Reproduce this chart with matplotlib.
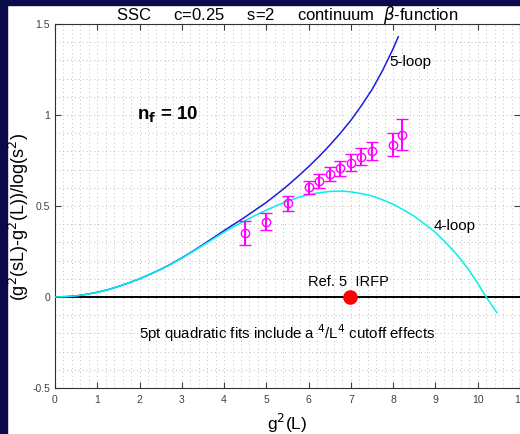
import matplotlib
matplotlib.use("Agg")
import matplotlib.pyplot as plt
from matplotlib.patches import Rectangle
from matplotlib.ticker import MultipleLocator

plt.rcParams['font.family'] = ['Liberation Sans', 'DejaVu Sans']
plt.rcParams['mathtext.fontset'] = 'dejavusans'

# 5-loop curve
x5 = [0, 0.25, 0.5, 0.75, 1.0, 1.25, 1.5, 1.75, 2.0, 2.25, 2.5, 2.75, 3.0, 3.25, 3.5, 3.75,
      4.0, 4.25, 4.5, 4.75, 5.0, 5.25, 5.5, 5.75, 6.0, 6.25, 6.5, 6.75, 7.0, 7.25, 7.5, 7.75, 8.0, 8.12]
y5 = [0, 0.002, 0.006, 0.015, 0.026, 0.04, 0.058, 0.078, 0.10, 0.125, 0.152, 0.182, 0.215, 0.25, 0.288, 0.326,
      0.365, 0.402, 0.44, 0.48, 0.52, 0.565, 0.612, 0.663, 0.716, 0.773, 0.834, 0.90, 0.971, 1.052, 1.14, 1.245, 1.365, 1.43]

# 4-loop curve
x4 = [0, 0.25, 0.5, 0.75, 1.0, 1.25, 1.5, 1.75, 2.0, 2.25, 2.5, 2.75, 3.0, 3.25, 3.5, 3.75,
      4.0, 4.25, 4.5, 4.75, 5.0, 5.25, 5.5, 5.75, 6.0, 6.25, 6.5, 6.75, 7.0, 7.25, 7.5, 7.75,
      8.0, 8.25, 8.5, 8.75, 9.0, 9.25, 9.5, 9.75, 10.0, 10.2, 10.45]
y4 = [0, 0.002, 0.006, 0.015, 0.026, 0.04, 0.058, 0.078, 0.10, 0.125, 0.151, 0.181, 0.213, 0.248, 0.284, 0.32,
      0.356, 0.39, 0.42, 0.45, 0.477, 0.503, 0.527, 0.547, 0.562, 0.573, 0.58, 0.582, 0.578, 0.568, 0.555, 0.534,
      0.51, 0.478, 0.443, 0.40, 0.355, 0.297, 0.235, 0.162, 0.075, 0.0, -0.085]

# data points with errors
gx = [4.5, 5.0, 5.5, 6.0, 6.25, 6.5, 6.75, 7.0, 7.25, 7.5, 8.0, 8.2]
gy = [0.35, 0.414, 0.515, 0.603, 0.639, 0.674, 0.707, 0.738, 0.771, 0.804, 0.837, 0.892]
gerr = [0.067, 0.048, 0.04, 0.036, 0.038, 0.038, 0.04, 0.045, 0.048, 0.05, 0.064, 0.085]

# IRFP reference point
irfp_x = [6.97]
irfp_y = [0.0]

xticks = list(range(0, 12))
yticks = [-0.5, 0, 0.5, 1, 1.5]
yticklabels = ['-0.5', '0', '0.5', '1', '1.5']

fig = plt.figure(figsize=(5.2, 4.34), dpi=100)
fig.patch.set_facecolor('white')
# dark frame (left and top)
fig.patches.append(Rectangle((0, 0), 7/520, 1, transform=fig.transFigure, color='#0b0b4c', zorder=-10))
fig.patches.append(Rectangle((0, 1 - 5/434), 1, 5/434, transform=fig.transFigure, color='#0b0b4c', zorder=-10))

ax = fig.add_axes([55/520, (434-388)/434, 465/520, 364/434])
ax.set_xlim(0, 11)
ax.set_ylim(-0.5, 1.5)

ax.xaxis.set_minor_locator(MultipleLocator(0.2))
ax.yaxis.set_minor_locator(MultipleLocator(0.1))
ax.grid(which='both', linestyle=(0, (1, 3)), color='#c0c0c0', linewidth=0.7)
ax.set_axisbelow(True)

ax.axhline(0, color='black', linewidth=1.4, zorder=2)
ax.plot(x5, y5, color='#1c1ce0', linewidth=1.1, zorder=3)
ax.plot(x4, y4, color='#00f0f0', linewidth=1.1, zorder=3)
ax.errorbar(gx, gy, yerr=gerr, fmt='o', color='#ff00ff', mfc='none', mec='#ff00ff',
            markersize=6, mew=1.0, elinewidth=1.5, capsize=4, capthick=1.5, zorder=4)
ax.plot(irfp_x, irfp_y, 'o', color='#ff0000', markersize=9.5, zorder=5)

ax.set_xticks(xticks)
ax.set_yticks(yticks)
ax.set_yticklabels(yticklabels)
ax.tick_params(which='major', direction='in', length=4, width=0.8, top=True, right=True,
               labelsize=7.5, labelcolor='#404040', color='#404040')
ax.tick_params(which='major', axis='x', pad=5)
ax.tick_params(which='minor', length=0)
for s in ax.spines.values():
    s.set_color('#303030')
    s.set_linewidth(0.8)

ax.set_title(r'SSC     c=0.25     s=2     continuum  $\beta$-function', fontsize=12, pad=3)
ax.set_xlabel(r'g$^2$(L)', fontsize=12.5, labelpad=5)
ax.set_ylabel(r'(g$^2$(sL)-g$^2$(L))/log(s$^2$)', fontsize=13)
ax.yaxis.set_label_coords(-0.052, 0.47)

ax.text(1.95, 1.0, r'n$_\mathbf{f}$ = 10', fontsize=13.5, fontweight='bold', ha='left', va='center')
ax.text(7.9, 1.29, '5-loop', fontsize=11, ha='left', va='center')
ax.text(8.95, 0.39, '4-loop', fontsize=11, ha='left', va='center')
ax.text(5.98, 0.085, 'Ref. 5  IRFP', fontsize=10.5, ha='left', va='center')
ax.text(1.98, -0.2, r'5pt quadratic fits include a $^4$/L$^4$ cutoff effects', fontsize=10.8,
        ha='left', va='center')

fig.savefig('out.png', dpi=100)
